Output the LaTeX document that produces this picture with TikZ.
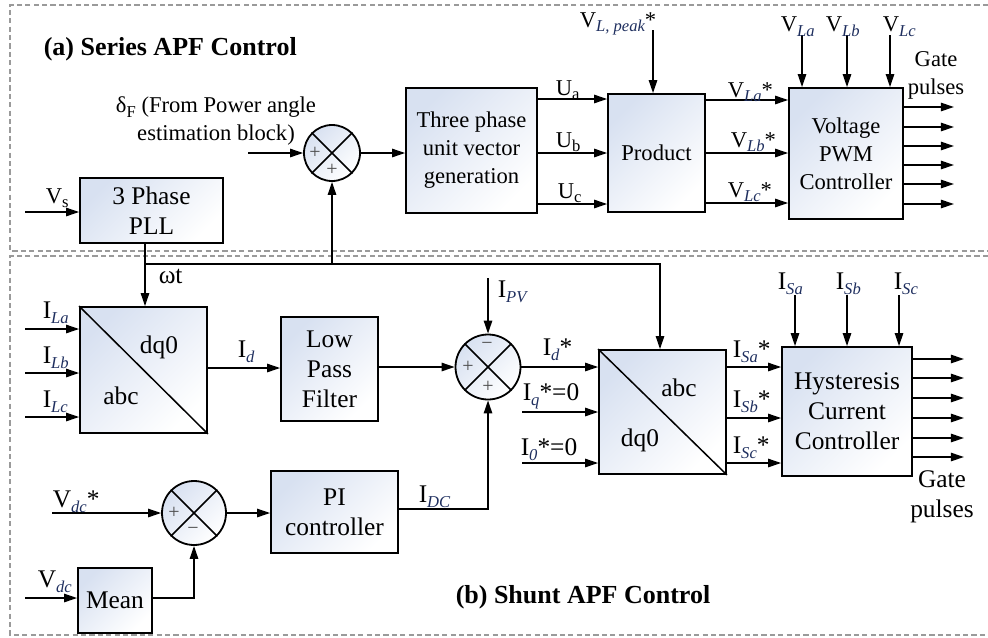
\documentclass[tikz,border=0pt]{standalone}
\usepackage{fontspec}
\setmainfont{Liberation Serif}
\usetikzlibrary{arrows.meta,calc}
\definecolor{subcol}{HTML}{1F2F5F}
\definecolor{boxblue}{HTML}{D8E1F1}
\definecolor{dashgray}{HTML}{9A9A9A}
\newcommand\fa{\fontsize{11.3}{14}\selectfont}
\newcommand\fb{\fontsize{12.7}{15}\selectfont}
\newcommand\si[1]{\raisebox{-0.45ex}{\fontsize{8.3}{9}\selectfont\itshape\color{subcol}#1}}
\newcommand\su[1]{\raisebox{-0.45ex}{\fontsize{8.3}{9}\selectfont #1}}
\tikzset{
  sz/.style 2 args={minimum width=#1*0.5pt, minimum height=#2*0.5pt},
  blk/.style={draw, line width=0.9pt, top color=boxblue, bottom color=white, shading angle=45, align=center, inner sep=0pt},
  sumc/.style={circle, draw, line width=0.9pt, top color=boxblue, bottom color=white, shading angle=45, inner sep=0pt, minimum size=#1*0.5pt},
  dsh/.style={draw=dashgray, line width=0.6pt, dash pattern=on 2.6pt off 1.6pt},
  lbl/.style={anchor=base west, inner sep=0pt},
  sgn/.style={inner sep=0pt, font=\fontsize{10}{10}\selectfont, text=black!70},
  arr/.style={-{Triangle[length=6.5pt,width=4.2pt]}},
}
\begin{document}
\begin{tikzpicture}[x=0.5pt, y=-0.5pt, line width=0.75pt]
\useasboundingbox (0,0) rectangle (988,637);
% section frames
\draw[dsh] (988,5) -- (10,5) -- (10,251) -- (988,251);
\draw[dsh] (988,256) -- (10,256) -- (10,635) -- (988,635);
% titles
\node[lbl, font=\fontsize{13}{15}\selectfont\bfseries] (ta) at (43,55) {(a) Series APF Control};
\node[lbl, font=\fontsize{13}{15}\selectfont\bfseries] (tb) at (455,603) {(b) Shunt APF Control};

% ---------- series blocks ----------
\node[blk, sz={143}{65}, font=\fb] (pll) at (151.5,210.5) {3 Phase\\PLL};
\node[blk, sz={131}{125}, font=\fa] (tpu) at (471.5,150.5) {Three phase\\unit vector\\generation};
\node[blk, sz={97}{118}, font=\fa] (prod) at (656.5,153) {Product};
\node[blk, sz={114}{131}, font=\fa] (vpwm) at (846,153.5) {Voltage\\PWM\\Controller};
\node[sumc=56] (sum1) at (332,153) {};
\draw (sum1.45) -- (sum1.225) (sum1.135) -- (sum1.-45);
\node[sgn] at (315,153) {+};
\node[sgn] at (332,170) {+};

% series connectors
\coordinate (vsin) at (25,212);
\draw[arr] (vsin) -- (vsin -| pll.west);
\coordinate (din) at (248,153);
\draw[arr] (din) -- (sum1.west);
\draw[arr] (sum1.east) -- (sum1.east -| tpu.west);
\foreach \y in {99,153,204} \draw[arr] (tpu.east |- 0,\y) -- (prod.west |- 0,\y);
\coordinate (pk) at (653,30);
\draw[arr] (pk) -- (pk |- prod.north);
\foreach \y in {100,153,203} \draw[arr] (prod.east |- 0,\y) -- (vpwm.west |- 0,\y);
\foreach \x in {802,847,890} \draw[arr] (\x,35) -- (vpwm.north -| \x,0);
\foreach \y in {107,127,146,165,184,204} \draw[arr] (vpwm.east |- 0,\y) -- ++(50,0);

% series labels
\node[lbl, font=\fa] (lvs) at (45,203) {V\su{s}};
\node[font=\fa, align=center, inner sep=0pt, anchor=center] (ldf) at (216,121) {δ\su{F} (From Power angle\\estimation block)};
\node[lbl, font=\fa] (lua) at (555,95) {U\su{a}};
\node[lbl, font=\fa] (lub) at (555,147) {U\su{b}};
\node[lbl, font=\fa] (luc) at (557,198) {U\su{c}};
\node[lbl, font=\fa] (lpk) at (579,27) {V\si{L, peak}*};
\node[lbl, font=\fa] (lva1) at (727,97) {V\si{La}*};
\node[lbl, font=\fa] (lvb1) at (730,147) {V\si{Lb}*};
\node[lbl, font=\fa] (lvc1) at (727,197) {V\si{Lc}*};
\node[lbl, font=\fa] (lva) at (780,32) {V\si{La}};
\node[lbl, font=\fa] (lvb) at (825,32) {V\si{Lb}};
\node[lbl, font=\fa] (lvc) at (882,32) {V\si{Lc}};
\node[font=\fa, align=center, inner sep=0pt, anchor=center] (lg1) at (936,75) {Gate\\pulses};

% ---------- shunt blocks ----------
\node[blk, sz={127}{126}] (tr1) at (143.5,370) {};
\draw (tr1.north west) -- (tr1.south east);
\node[font=\fb, inner sep=0pt] (tr1a) at (159,347) {dq0};
\node[font=\fb, inner sep=0pt] (tr1b) at (121,396) {abc};
\node[blk, sz={97}{104}, font=\fb] (lpf) at (329.5,369) {Low\\Pass\\Filter};
\node[sumc=65] (sum2) at (488,367) {};
\draw (sum2.45) -- (sum2.225) (sum2.135) -- (sum2.-45);
\node[sgn] at (487,346) {−};
\node[sgn] at (468,367) {+};
\node[sgn] at (488,387) {+};
\node[blk, sz={127}{124}] (tr2) at (662.5,412) {};
\draw (tr2.north west) -- (tr2.south east);
\node[font=\fb, inner sep=0pt] (tr2a) at (679,388) {abc};
\node[font=\fb, inner sep=0pt] (tr2b) at (640,440) {dq0};
\node[blk, sz={130}{129}, font=\fb] (hcc) at (847,411.5) {Hysteresis\\Current\\Controller};
\node[blk, sz={127}{82}, font=\fb] (pi) at (334.5,512) {PI\\controller};
\node[sumc=64] (sum3) at (194,513) {};
\draw (sum3.45) -- (sum3.225) (sum3.135) -- (sum3.-45);
\node[sgn] at (174,513) {+};
\node[sgn] at (193,531) {−};
\node[blk, sz={74}{65}, font=\fb] (mean) at (115,600.5) {Mean};

% shunt connectors
\coordinate (wt) at (145,264);
\coordinate (tj) at (660,264);
\draw[arr] (pll.south -| wt) -- (tr1.north -| wt);
\draw[arr] (wt) -- (tj) -- (tj |- tr2.north);
\draw[arr] (sum1.south |- wt) -- (sum1.south);
\foreach \y in {329,373,417} \draw[arr] (25,\y) -- (tr1.west |- 0,\y);
\draw[arr] (tr1.east |- 0,368) -- (lpf.west |- 0,368);
\draw[arr] (lpf.east |- 0,367) -- (sum2.west);
\coordinate (ipv) at (488,278);
\draw[arr] (ipv) -- (sum2.north);
\draw[arr] (sum2.east) -- (sum2.east -| tr2.west);
\coordinate (iq) at (522,412);
\draw[arr] (iq) -- (iq -| tr2.west);
\coordinate (io) at (522,463);
\draw[arr] (io) -- (io -| tr2.west);
\draw[arr] (pi.east |- 0,509) -| (sum2.south);
\coordinate (vdcs) at (52,513);
\draw[arr] (vdcs) -- (sum3.west);
\draw[arr] (sum3.east) -- (sum3.east -| pi.west);
\coordinate (vdc) at (25,598);
\draw[arr] (vdc) -- (vdc -| mean.west);
\draw[arr] (mean.east |- 0,598) -| (sum3.south);
\foreach \y in {367,418,463} \draw[arr] (tr2.east |- 0,\y) -- (hcc.west |- 0,\y);
\foreach \x in {795,847,899} \draw[arr] (\x,295) -- (hcc.north -| \x,0);
\foreach \y in {359,378,398,418,438,457} \draw[arr] (hcc.east |- 0,\y) -- ++(51,0);

% shunt labels
\node[lbl, font=\fb] (lwt) at (158,283) {ωt};
\node[lbl, font=\fb] (lila) at (42,318) {I\si{La}};
\node[lbl, font=\fb] (lilb) at (42,363) {I\si{Lb}};
\node[lbl, font=\fb] (lilc) at (42,407) {I\si{Lc}};
\node[lbl, font=\fb] (lid) at (237,357) {I\si{d}};
\node[lbl, font=\fb] (lipv) at (497,297) {I\si{PV}};
\node[lbl, font=\fb] (lids) at (542,355) {I\si{d}*};
\node[lbl, font=\fb] (liq) at (522,400) {I\si{q}*=0};
\node[lbl, font=\fb] (lio) at (520,455) {I\si{0}*=0};
\node[lbl, font=\fb] (lisa1) at (732,357) {I\si{Sa}*};
\node[lbl, font=\fb] (lisb1) at (732,407) {I\si{Sb}*};
\node[lbl, font=\fb] (lisc1) at (732,453) {I\si{Sc}*};
\node[lbl, font=\fb] (lisa) at (777,289) {I\si{Sa}};
\node[lbl, font=\fb] (lisb) at (835,289) {I\si{Sb}};
\node[lbl, font=\fb] (lisc) at (893,289) {I\si{Sc}};
\node[font=\fb, align=center, inner sep=0pt, anchor=center] (lg2) at (942,497) {Gate\\pulses};
\node[lbl, font=\fb] (lidc) at (418,502) {I\si{DC}};
\node[lbl, font=\fb] (lvdcs) at (52,507) {V\si{dc}*};
\node[lbl, font=\fb] (lvdc) at (37,587) {V\si{dc}};
\end{tikzpicture}
\end{document}
